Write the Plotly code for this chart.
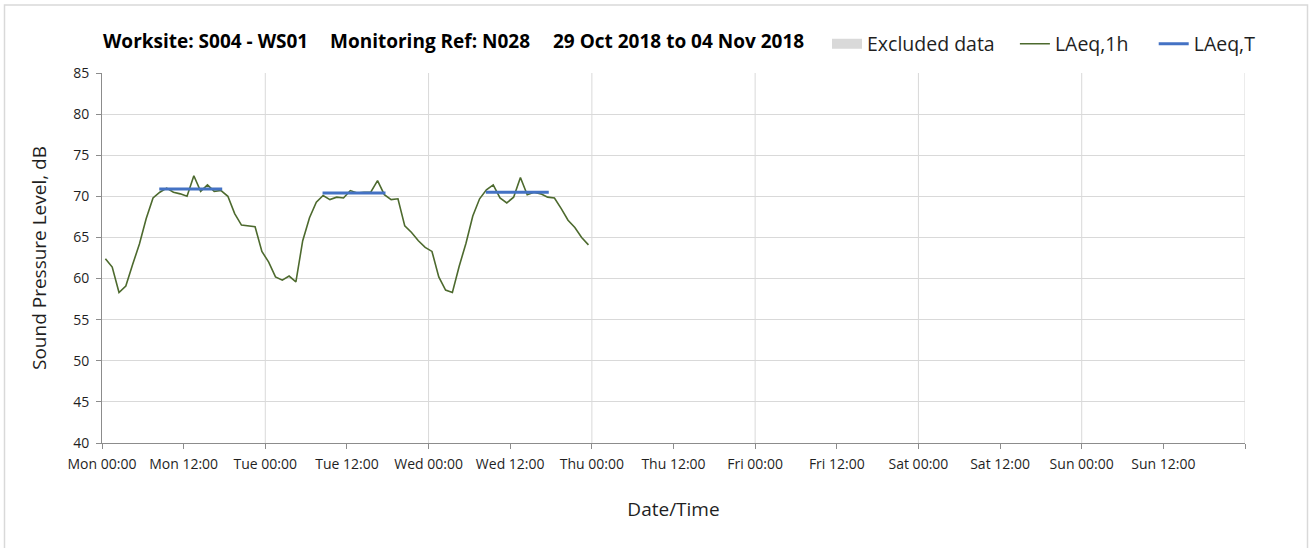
import pandas as pd
import plotly.graph_objects as go

# ---------------- data ----------------
start_time = "2018-10-29 00:30"
laeq_1h = [
    62.4, 61.4, 58.3, 59.1, 61.7, 64.2, 67.3, 69.8, 70.5, 71.0, 70.5, 70.3,
    70.0, 72.5, 70.6, 71.4, 70.6, 70.7, 70.0, 67.9, 66.5, 66.4, 66.3, 63.3,
    62.0, 60.2, 59.8, 60.3, 59.6, 64.6, 67.4, 69.3, 70.1, 69.6, 69.9, 69.8,
    70.7, 70.4, 70.5, 70.5, 71.9, 70.2, 69.6, 69.7, 66.4, 65.6, 64.6, 63.8,
    63.3, 60.2, 58.6, 58.3, 61.5, 64.3, 67.6, 69.7, 70.8, 71.4, 69.8, 69.2,
    69.9, 72.3, 70.2, 70.5, 70.3, 69.9, 69.8, 68.5, 67.1, 66.2, 65.0, 64.1,
]
times_1h = pd.date_range(start_time, periods=len(laeq_1h), freq="h")

laeq_t_start = ["2018-10-29 08:25", "2018-10-30 08:25", "2018-10-31 08:25"]
laeq_t_end = ["2018-10-29 17:40", "2018-10-30 17:40", "2018-10-31 17:40"]
laeq_t_values = [70.9, 70.4, 70.5]

day_lines = ["2018-10-30", "2018-10-31", "2018-11-01", "2018-11-02",
             "2018-11-03", "2018-11-04", "2018-11-05"]
tick_vals = ["2018-10-29 00:00", "2018-10-29 12:00", "2018-10-30 00:00", "2018-10-30 12:00",
             "2018-10-31 00:00", "2018-10-31 12:00", "2018-11-01 00:00", "2018-11-01 12:00",
             "2018-11-02 00:00", "2018-11-02 12:00", "2018-11-03 00:00", "2018-11-03 12:00",
             "2018-11-04 00:00", "2018-11-04 12:00", "2018-11-05 00:00"]
tick_text = ["Mon 00:00", "Mon 12:00", "Tue 00:00", "Tue 12:00", "Wed 00:00", "Wed 12:00",
             "Thu 00:00", "Thu 12:00", "Fri 00:00", "Fri 12:00", "Sat 00:00", "Sat 12:00",
             "Sun 00:00", "Sun 12:00", ""]

title_parts = ["Worksite: S004 - WS01", "Monitoring Ref: N028", "29 Oct 2018 to 04 Nov 2018"]
legend_names = ["Excluded data", "LAeq,1h", "LAeq,T"]

FONT = "Open Sans"
GREEN = "#4D6A2E"
BLUE = "#4472C4"
GRID = "#D9D9D9"
AXIS = "#8C8C8C"
TEXT = "#1F1F1F"

W, H = 1309, 548
ML, MT = 102, 73
MR = W - 1245
MB = H - 443
PW, PH = W - ML - MR, H - MT - MB


def px_x(px):
    return (px - ML) / PW


def px_y(py):
    return (H - MB - py) / PH


# LAeq,T segments with gaps
t_x, t_y = [], []
for s, e, v in zip(laeq_t_start, laeq_t_end, laeq_t_values):
    t_x += [s, e, None]
    t_y += [v, v, None]

NB = "\u00a0"
fig = go.Figure()
fig.add_trace(go.Scatter(x=[None], y=[None], mode="lines", name=legend_names[0] + NB * 3,
                         line=dict(color="#D9D9D9", width=12)))
fig.add_trace(go.Scatter(x=times_1h, y=laeq_1h, mode="lines", name=legend_names[1] + NB * 4,
                         line=dict(color=GREEN, width=1.6)))
fig.add_trace(go.Scatter(x=t_x, y=t_y, mode="lines", name=legend_names[2],
                         line=dict(color=BLUE, width=3)))

shapes = []
for d in day_lines:
    shapes.append(dict(type="line", xref="x", yref="paper", x0=d, x1=d, y0=0, y1=1,
                       line=dict(color=GRID, width=1), layer="below"))
# outer chart frame
shapes.append(dict(type="rect", xref="paper", yref="paper",
                   x0=px_x(4.5), x1=px_x(1307.5), y0=px_y(580), y1=px_y(5),
                   line=dict(color=GRID, width=1.5), fillcolor="rgba(0,0,0,0)", layer="below"))

annotations = []
for txt, left in zip(title_parts, [101, 328, 551]):
    annotations.append(dict(text=txt, xref="paper", yref="paper", x=px_x(left), y=px_y(41),
                            xanchor="left", yanchor="middle", showarrow=False,
                            font=dict(family=FONT, size=19, color="#000000", weight="bold")))

fig.update_layout(
    width=W, height=H,
    margin=dict(l=ML, r=MR, t=MT, b=MB, autoexpand=False),
    paper_bgcolor="white", plot_bgcolor="white",
    font=dict(family=FONT, color=TEXT),
    showlegend=True,
    legend=dict(orientation="h", x=px_x(827), y=px_y(44), xanchor="left", yanchor="middle",
                font=dict(family=FONT, size=19.5, color=TEXT),
                bgcolor="rgba(0,0,0,0)", itemwidth=30, traceorder="normal"),
    shapes=shapes,
    annotations=annotations,
)

fig.update_xaxes(
    type="date", range=["2018-10-29 00:00", "2018-11-05 00:00"],
    tickmode="array", tickvals=tick_vals, ticktext=tick_text,
    ticks="outside", ticklen=5, tickcolor=AXIS, tickwidth=1,
    showgrid=False, zeroline=False,
    showline=True, linecolor=AXIS, linewidth=1,
    tickfont=dict(family=FONT, size=14, color=TEXT),
    ticklabelstandoff=3,
    title=dict(text="Date/Time", font=dict(family=FONT, size=19, color=TEXT), standoff=30),
    automargin=False,
)
fig.update_yaxes(
    range=[40, 85], dtick=5, tick0=40,
    ticks="outside", ticklen=5, tickcolor=AXIS, tickwidth=1,
    showgrid=True, gridcolor=GRID, gridwidth=1, zeroline=False,
    showline=True, linecolor=AXIS, linewidth=1,
    tickfont=dict(family=FONT, size=14, color=TEXT),
    ticklabelstandoff=4,
    title=dict(text="Sound Pressure Level, dB", font=dict(family=FONT, size=19, color=TEXT), standoff=21),
    automargin=False,
)

fig.write_html("out.html", config={"displayModeBar": False},
               post_script="document.body.style.margin='0px';")
